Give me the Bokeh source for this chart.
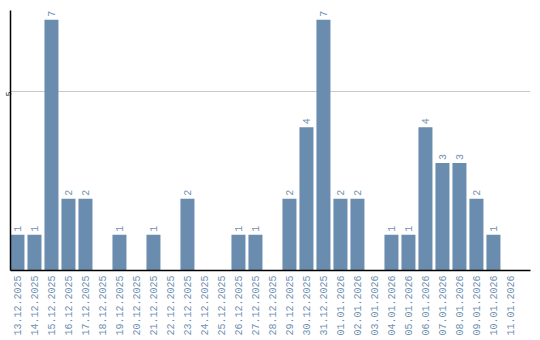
import math
from bokeh.plotting import figure
from bokeh.models import ColumnDataSource, Range1d, FixedTicker
from bokeh.core.properties import value
from bokeh.embed import file_html
from bokeh.resources import INLINE

dates = ["13.12.2025", "14.12.2025", "15.12.2025", "16.12.2025", "17.12.2025",
         "18.12.2025", "19.12.2025", "20.12.2025", "21.12.2025", "22.12.2025",
         "23.12.2025", "24.12.2025", "25.12.2025", "26.12.2025", "27.12.2025",
         "28.12.2025", "29.12.2025", "30.12.2025", "31.12.2025", "01.01.2026",
         "02.01.2026", "03.01.2026", "04.01.2026", "05.01.2026", "06.01.2026",
         "07.01.2026", "08.01.2026", "09.01.2026", "10.01.2026", "11.01.2026"]
counts = [1, 1, 7, 2, 2, 0, 1, 0, 1, 0, 2, 0, 0, 1, 1, 0, 2, 4, 7, 2, 2, 0, 1, 1, 4, 3, 3, 2, 1, 0]
y_ticks = [5]

BAR = "#6a8caf"
LABEL = "#6f90b2"

xs = list(range(len(dates)))
src = ColumnDataSource(dict(x=xs, y=counts, t=[str(c) for c in counts]))
lab = ColumnDataSource(dict(x=[x for x, c in zip(xs, counts) if c > 0],
                            y=[c for c in counts if c > 0],
                            t=[str(c) for c in counts if c > 0]))

p = figure(width=540, height=340, output_backend="svg", toolbar_location=None,
           x_range=Range1d(-0.41, 30.18), y_range=Range1d(0, 7.26),
           min_border_left=10, min_border_right=10, min_border_top=10, min_border_bottom=70)
p.outline_line_color = None
p.background_fill_color = "white"

p.vbar(x="x", top="y", bottom=0, width=14/17, source=src, color=BAR, line_color=None)
p.text(x="x", y="y", text="t", source=lab, angle=math.pi/2, text_align="left",
       text_baseline="middle", y_offset=-3, text_font=value("Liberation Mono"),
       text_font_size="10px", text_color=LABEL)

p.xaxis.ticker = FixedTicker(ticks=xs)
p.xaxis.major_label_overrides = {i: d for i, d in enumerate(dates)}
p.xaxis.major_label_orientation = math.pi/2
p.xaxis.major_label_text_font = "Liberation Mono"
p.xaxis.major_label_text_font_size = "10px"
p.xaxis.major_label_text_color = LABEL
p.xaxis.major_label_standoff = 5
p.xaxis.major_tick_in = 0
p.xaxis.major_tick_out = 0
p.xaxis.minor_tick_line_color = None
p.xaxis.axis_line_color = "black"
p.xaxis.axis_line_width = 1.5

p.yaxis.ticker = FixedTicker(ticks=y_ticks)
p.yaxis.major_label_orientation = math.pi/2
p.yaxis.major_label_text_font = "Liberation Mono"
p.yaxis.major_label_text_font_size = "8px"
p.yaxis.major_label_text_color = "black"
p.yaxis.major_label_standoff = 2
p.yaxis.major_tick_in = 0
p.yaxis.major_tick_out = 0
p.yaxis.minor_tick_line_color = None
p.yaxis.axis_line_color = "black"
p.yaxis.axis_line_width = 1.5

p.xgrid.grid_line_color = None
p.ygrid.grid_line_color = "#c8c8c8"
p.ygrid.grid_line_width = 1

open("out.html", "w").write(file_html(p, INLINE))
